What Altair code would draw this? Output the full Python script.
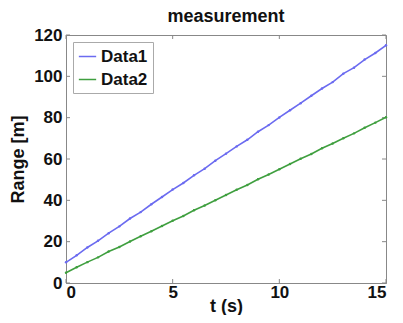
import altair as alt
import pandas as pd

t = [i * 0.5 for i in range(31)]
data1 = [10.0, 13.4, 17.2, 20.4, 24.1, 27.4, 31.2, 34.3, 38.1, 41.6, 45.2, 48.4, 52.1, 55.3, 59.2, 62.6,
         66.1, 69.3, 73.2, 76.4, 80.1, 83.6, 87.0, 90.6, 94.1, 97.2, 101.3, 104.2, 108.1, 111.3, 115.0]
data2 = [5.0, 7.6, 10.1, 12.4, 15.2, 17.4, 20.1, 22.6, 25.0, 27.6, 30.1, 32.4, 35.2, 37.5, 40.0, 42.6,
         45.1, 47.4, 50.2, 52.5, 55.0, 57.6, 60.1, 62.4, 65.2, 67.5, 70.0, 72.4, 75.1, 77.6, 80.2]
series = ["Data1", "Data2"]
colors = ["#6b6bf0", "#3f9f3f"]
x_ticks = [0, 5, 10, 15]
y_ticks = [0, 20, 40, 60, 80, 100, 120]

df = pd.concat([
    pd.DataFrame({"t": t, "v": data1, "s": series[0]}),
    pd.DataFrame({"t": t, "v": data2, "s": series[1]}),
])
xt = pd.DataFrame({"t": x_ticks})
yt = pd.DataFrame({"v": y_ticks})

FONT = "Liberation Sans"
W, H = 320, 248
TICK = "#888888"

xs = alt.Scale(domain=[0, 15], nice=False)
ys = alt.Scale(domain=[0, 120], nice=False)

lines = alt.Chart(df).mark_line(
    strokeWidth=1.6, point=alt.OverlayMarkDef(filled=True, size=6)
).encode(
    x=alt.X("t:Q", scale=xs,
            axis=alt.Axis(title="t (s)", values=x_ticks, grid=False,
                          titleY=28, titleBaseline="alphabetic")),
    y=alt.Y("v:Q", scale=ys,
            axis=alt.Axis(title="Range [m]", values=y_ticks, grid=False)),
    color=alt.Color("s:N", scale=alt.Scale(domain=series, range=colors),
                    legend=alt.Legend(title=None, orient="none", legendX=7, legendY=7,
                                      symbolType="stroke", symbolStrokeWidth=1.5, symbolSize=300,
                                      strokeColor="#aaaaaa", padding=5, rowPadding=5, labelOffset=4,
                                      labelFont=FONT, labelFontSize=17, labelFontWeight="bold",
                                      labelColor="#111111", fillColor="white")),
)

xb = alt.Chart(xt).mark_rule(color=TICK).encode(x=alt.X("t:Q", scale=xs), y=alt.value(H), y2=alt.value(H - 4))
xtp = alt.Chart(xt).mark_rule(color=TICK).encode(x=alt.X("t:Q", scale=xs), y=alt.value(0), y2=alt.value(4))
yl = alt.Chart(yt).mark_rule(color=TICK).encode(y=alt.Y("v:Q", scale=ys), x=alt.value(0), x2=alt.value(4))
yr = alt.Chart(yt).mark_rule(color=TICK).encode(y=alt.Y("v:Q", scale=ys), x=alt.value(W), x2=alt.value(W - 4))

chart = alt.layer(xb, xtp, yl, yr, lines).properties(
    width=W, height=H,
    title=alt.TitleParams("measurement", font=FONT, fontSize=18, fontWeight="bold",
                          color="#111111", offset=0),
    autosize=alt.AutoSizeParams(type="none"),
    padding={"left": 58, "top": 27, "right": 9, "bottom": 32},
).configure_view(
    stroke="#888888", strokeWidth=1
).configure_axis(
    labelFont=FONT, labelFontSize=17, labelFontWeight="bold", labelColor="#111111",
    titleFont=FONT, titleFontSize=18, titleFontWeight="bold", titleColor="#111111",
    domainColor="#888888", ticks=False, tickSize=0,
).configure_axisY(titlePadding=6, labelPadding=4).configure_axisX(labelPadding=1)

chart.save("out.html", embed_options={"renderer": "svg", "actions": False})
